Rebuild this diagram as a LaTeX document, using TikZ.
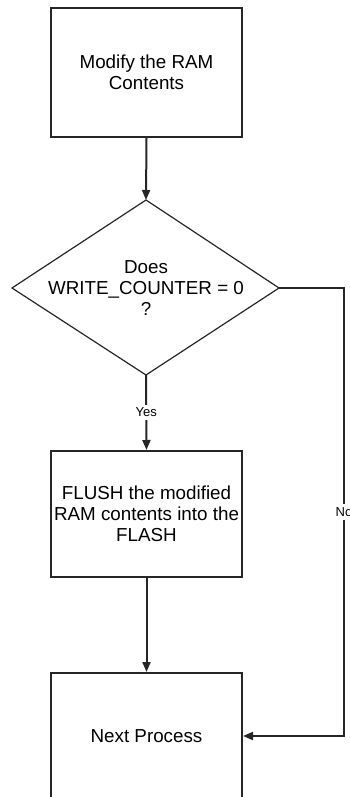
\documentclass[tikz,border=0pt]{standalone}
\usepackage{fontspec}
\setmainfont{Liberation Sans}
\usetikzlibrary{arrows.meta}
\begin{document}
\begin{tikzpicture}[x=0.5pt,y=-0.5pt,
  procbox/.style={draw=black!85,line width=1pt,minimum width=95.5pt,inner sep=0pt,align=center,font=\fontsize{9.4pt}{10.5pt}\selectfont},
  dtext/.style={inner sep=0pt,align=center,font=\fontsize{9.4pt}{10.3pt}\selectfont},
  dline/.style={draw=black!85,line width=0.6pt,line join=miter},
  flow/.style={draw=black!85,line width=1pt,-{Triangle[length=5pt,width=4pt]}},
  lbl/.style={fill=white,inner sep=1.5pt,font=\fontsize{6.5pt}{7pt}\selectfont}]
\useasboundingbox (0,0) rectangle (349,797);
\clip (0,0) rectangle (349,797);
\node[procbox,minimum height=64.5pt] (b1) at (146.5,72.5) {Modify the RAM\\Contents};
\node[dtext] (d) at (146,288) {Does\\WRITE\_COUNTER = 0\\?};
\coordinate (dt) at (146,200);
\coordinate (dr) at (279,288);
\coordinate (db) at (146,375);
\coordinate (dl) at (12,288);
\draw[dline] (dt) -- (dr) -- (db) -- (dl) -- cycle;
\node[procbox,minimum height=63pt] (b2) at (146.5,514) {FLUSH the modified\\RAM contents into the\\FLASH};
\node[procbox,minimum height=63pt] (b4) at (146.5,736) {Next Process};
\coordinate (c) at (344,288);
\draw[flow] (b1.south) -- (dt);
\draw[flow] (db) -- node[lbl,pos=0.5] {Yes} (b2.north);
\draw[flow] (b2.south) -- (b4.north);
\draw[flow] (dr) -- (c) |- node[lbl,pos=0.25] {No} (b4.east);
\end{tikzpicture}
\end{document}
